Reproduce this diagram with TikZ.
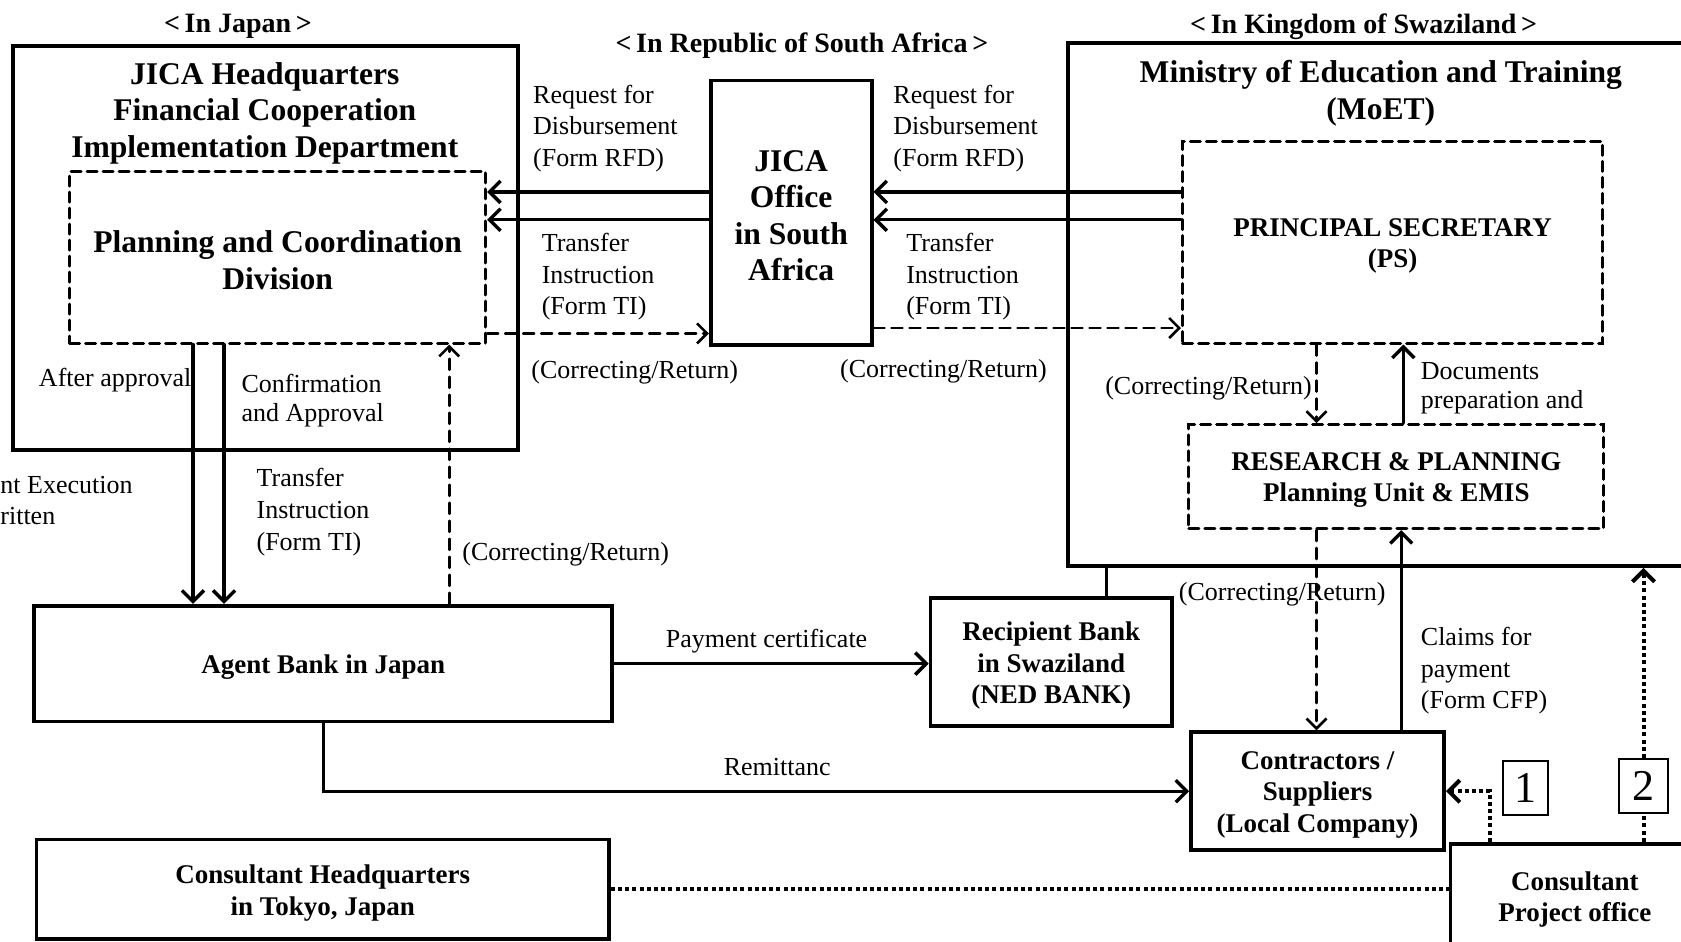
\documentclass[tikz,border=0pt]{standalone}
\usepackage{fontspec}
\setmainfont{Liberation Serif}
\usetikzlibrary{arrows.meta,fit}

\begin{document}
\begin{tikzpicture}[x=0.536pt,y=-0.536pt,line cap=round,
% Styles
org box/.style={draw=inkcolor,line width=1.9pt,inner sep=0pt},
unit box/.style={draw=inkcolor,line width=1.5pt,inner sep=0pt,dash pattern=on 5pt off 3pt},
box text/.style={inner sep=0pt,align=center,font=\boxfont,yshift=-1.8pt},
heading text/.style={inner sep=0pt,align=center,font=\headfont,yshift=-1.4pt},
region text/.style={inner sep=0pt,font=\regionfont,yshift=-1.4pt},
note text/.style={inner sep=0pt,align=left,font=\notefont,yshift=-1.2pt},
number box/.style={draw=inkcolor,line width=1.1pt,inner sep=0pt},
main arrow/.style={draw=inkcolor,line width=1.7pt,-{Straight Barb[length=5.5pt,width=11pt]}},
plain link/.style={draw=inkcolor,line width=1.7pt},
return arrow/.style={draw=inkcolor,line width=1.3pt,dash pattern=on 5.5pt off 3.5pt,-{Straight Barb[length=5pt,width=10pt]}},
dotted link/.style={draw=inkcolor,line width=2pt,line cap=butt,dash pattern=on 2pt off 1.6pt}]
% Local definitions
\def\headfont{\fontsize{15.8}{18.3}\selectfont\bfseries}
\def\boxfont{\fontsize{13.5}{15.8}\selectfont\bfseries}
\def\regionfont{\fontsize{14}{16}\selectfont\bfseries}
\def\notefont{\fontsize{13}{15.8}\selectfont}
\def\smallnote{\fontsize{13}{14.5}\selectfont}
\def\numfont{\fontsize{22}{22}\selectfont}
\def\tip{Straight Barb[length=5.5pt,width=11pt]}
% Colors
\colorlet{inkcolor}{black}

\useasboundingbox (0,0) rectangle (1568,878);

% region headings
\node[region text] (japan) at (222,22) {<\,In Japan\,>};
\node[region text] (rsa) at (748,40) {<\,In Republic of South Africa\,>};
\node[region text] (swazi) at (1272,22) {<\,In Kingdom of Swaziland\,>};

% Japan
\node[org box,fit={(12,43) (483,420)}] (hq) {};
\node[heading text] (hqtitle) at (247,103) {JICA Headquarters\\Financial Cooperation\\Implementation Department};
\node[unit box,fit={(65,160) (453,320)}] (plan) {};
\node[heading text] (planname) at (plan) {Planning and Coordination\\Division};
\node[org box,fit={(32,565) (571,673)}] (agent) {};
\node[box text] (agentname) at (agent) {Agent Bank in Japan};
\node[org box,fit={(34,783) (568,876)}] (cshq) {};
\node[box text] (cshqname) at (cshq) {Consultant Headquarters\\in Tokyo, Japan};

% South Africa
\node[org box,fit={(663,75) (813,322)}] (jica) {};
\node[heading text] (jicaname) at (jica) {JICA\\Office\\in South\\Africa};

% Swaziland
\node[org box,fit={(996,40) (1580,528)}] (moet) {};
\node[heading text] (moettitle) at (1288,84.5) {Ministry of Education and Training\\(MoET)};
\node[unit box,fit={(1103,132) (1495,320)}] (ps) {};
\node[box text] (psname) at (ps) {PRINCIPAL SECRETARY\\(PS)};
\node[unit box,fit={(1109,396) (1496,493)}] (rp) {};
\node[box text] (rpname) at (rp) {RESEARCH \& PLANNING\\Planning Unit \& EMIS};
\node[org box,fit={(868,558) (1093,677)}] (recip) {};
\node[box text] (recipname) at (recip) {Recipient Bank\\in Swaziland\\(NED BANK)};
\node[org box,fit={(1111,683) (1347,793)}] (contr) {};
\node[box text] (contrname) at (contr) {Contractors /\\Suppliers\\(Local Company)};
\node[org box,fit={(1353,787) (1585,884)}] (cpo) {};
\node[box text] (cponame) at (cpo) {Consultant\\Project office};
\node[number box,fit={(1402,710) (1444,760)}] (one) {};
\node[font=\numfont,inner sep=0pt] (onetext) at (one) {1};
\node[number box,fit={(1510,708) (1556,758)}] (two) {};
\node[font=\numfont,inner sep=0pt] (twotext) at (two) {2};

% requests and transfer instructions
\foreach \y in {179,205} {
  \draw[main arrow] (jica.west |- 0,\y) -- (plan.east |- 0,\y);
  \draw[main arrow] (ps.west |- 0,\y) -- (jica.east |- 0,\y);
}
\draw[return arrow] (plan.east |- 0,311) -- (jica.west |- 0,311);
\draw[return arrow] (jica.east |- 0,306) -- (ps.west |- 0,306);

% inside MoET
\draw[return arrow] (ps.south -| 1228,0) -- (rp.north -| 1228,0);
\draw[main arrow] (rp.north -| 1309,0) -- (ps.south -| 1309,0);
\draw[return arrow] (rp.south -| 1228,0) -- (contr.north -| 1228,0);
\draw[main arrow] (contr.north -| 1307,0) -- (rp.south -| 1307,0);

% banks
\draw[plain link] (recip.north -| 1032,0) -- (moet.south -| 1032,0);
\draw[main arrow] (agent.east) -- (recip.west |- agent.east);
\draw[main arrow] (agent.south) |- (contr.west);
\foreach \x in {180,209}
  \draw[main arrow] (plan.south -| \x,0) -- (agent.north -| \x,0);
\draw[return arrow] (agent.north -| 419,0) -- (plan.south -| 419,0);

% consultant
\draw[dotted link] (cshq.east) -- (cpo.west |- cshq.east);
\draw[dotted link,-{\tip}] (cpo.north -| 1390,0) |- (contr.east);
\draw[dotted link] (cpo.north -| two.south) -- (two.south);
\draw[dotted link,-{\tip}] (two.north) -- (moet.south -| two.north);

% labels
\node[note text,anchor=west] (reqleft) at (497,117.5) {Request for\\Disbursement\\(Form RFD)};
\node[note text,anchor=west] (tileft) at (505,256) {Transfer\\Instruction\\(Form TI)};
\node[note text] (corleft) at (592,345) {(Correcting/Return)};
\node[note text,anchor=west] (reqright) at (833,117.5) {Request for\\Disbursement\\(Form RFD)};
\node[note text,anchor=west] (tiright) at (845,256) {Transfer\\Instruction\\(Form TI)};
\node[note text] (corright) at (880,344) {(Correcting/Return)};
\node[note text,anchor=east] (corps) at (1224,360) {(Correcting/Return)};
\node[note text,anchor=west,font=\smallnote] (docs) at (1325,359.5) {Documents\\preparation and};
\node[note text] (corrp) at (1196,552) {(Correcting/Return)};
\node[note text,anchor=west] (claims) at (1325,623.5) {Claims for\\payment\\(Form CFP)};
\node[note text,anchor=west] (after) at (36,352) {After approval};
\node[note text,anchor=west,font=\smallnote] (confirm) at (225,371.5) {Confirmation\\and Approval};
\node[note text,anchor=west] (tiagent) at (239,475.5) {Transfer\\Instruction\\(Form TI)};
\node[note text,anchor=west] (coragent) at (431,515) {(Correcting/Return)};
\node[note text,anchor=west] (exec) at (0,464.5) {nt Execution\\ritten};
\node[note text] (pay) at (715,596) {Payment certificate};
\node[note text] (remit) at (725,713) {Remittanc};
\end{tikzpicture}
\end{document}
